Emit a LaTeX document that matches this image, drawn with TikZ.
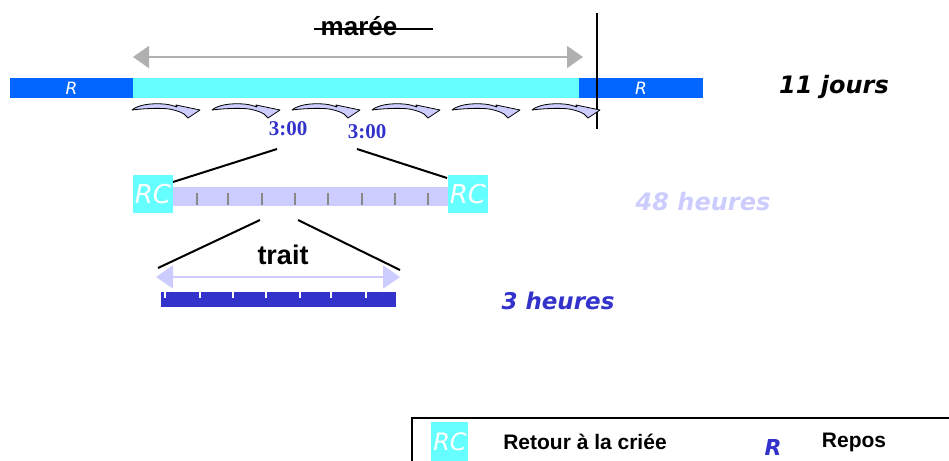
\documentclass[tikz,border=0pt]{standalone}
\usepackage{fontspec}
\setmainfont{Liberation Sans}
\newfontfamily\dvfont{DejaVu Sans}
\newfontfamily\serfont{Liberation Serif}
\usetikzlibrary{arrows.meta}
\definecolor{rblue}{HTML}{0066FF}
\definecolor{cyanb}{HTML}{66FFFF}
\definecolor{lav}{HTML}{CCCCFF}
\definecolor{dblue}{HTML}{3333CC}
\definecolor{arrgray}{HTML}{B0B0B0}
\definecolor{tickgray}{HTML}{888888}
\begin{document}
\begin{tikzpicture}[x=1pt,y=-1pt,
  bar/.style={rectangle,inner sep=0pt,outer sep=0pt,draw=none},
  rtext/.style={text=white,font=\dvfont\itshape\fontsize{17}{17}\selectfont},
  rctext/.style={text=white,font=\dvfont\itshape\fontsize{26}{26}\selectfont},
  bigital/.style={font=\dvfont\bfseries\itshape\fontsize{24}{24}\selectfont},
  boldlabel/.style={font=\bfseries\fontsize{#1}{#1}\selectfont},
  timelabel/.style={text=dblue,font=\serfont\bfseries\fontsize{21}{21}\selectfont},
  zoomline/.style={line width=2pt,black},
  grayarrow/.style={line width=2pt,arrgray,{Triangle[length=16pt,width=22pt]}-{Triangle[length=16pt,width=22pt]}},
  lavarrow/.style={line width=2pt,lav,{Triangle[length=17pt,width=23pt]}-{Triangle[length=17pt,width=23pt]}},
  curvarr/.pic={
    \filldraw[fill=lav,draw=black,line width=0.8pt,line join=round]
      (0,0) .. controls (6,-5) and (18,-7) .. (32,-6)
      .. controls (38,-5.5) and (42,-4) .. (45,-3)
      -- (44,-5) -- (68,0) -- (56,8) -- (52,4)
      .. controls (47,1) and (40,-1) .. (32,-1.5)
      .. controls (20,-2) and (8,-1) .. (0,0) -- cycle;
  }
]
\useasboundingbox (0,0) rectangle (949,460);
\clip (0,0) rectangle (949,460);

% title
\node[boldlabel=26,anchor=base] (maree) at (359,36) {marée};
\coordinate (strikeend) at (433,29);
\draw[line width=1.5pt] (maree.west |- strikeend) ++(-3,0) -- (strikeend);

% tide double arrow
\coordinate (mL) at (133,57);
\coordinate (mR) at (583,57);
\draw[grayarrow] (mL) -- (mR);

% top bar
\node[bar,fill=rblue,minimum width=123pt,minimum height=20pt,rtext] (rL) at (71.5,88) {R};
\node[bar,fill=cyanb,minimum width=446pt,minimum height=20pt] (tide) at (356,88) {};
\node[bar,fill=rblue,minimum width=124pt,minimum height=20pt,rtext] (rR) at (641,88) {R};
\node[bigital] (jours) at (834,87) {11 jours};

% vertical marker
\coordinate (v1) at (597,13);
\coordinate (v2) at (597,129);
\draw[line width=1.5pt] (v1) -- (v2);

% curved arrows (hauls)
\foreach \i in {0,...,5} {
  \pic at ({132+80*\i},110) {curvarr};
}

% times
\node[timelabel] (t1) at (288,129) {3:00};
\node[timelabel] (t2) at (367,132) {3:00};

% 48h bar
\node[bar,fill=cyanb,minimum width=40pt,minimum height=38pt,rctext] (rcL) at (153,194) {RC};
\node[bar,fill=lav,minimum width=275pt,minimum height=19pt] (bar48) at (310.5,196.5) {};
\node[bar,fill=cyanb,minimum width=40pt,minimum height=38pt,rctext] (rcR) at (468,194) {RC};
\foreach \x in {197,228,262,295,328,362,395,428} {
  \draw[tickgray,line width=1.6pt] (\x,193) -- (\x,205);
}
\node[font=\dvfont\bfseries\itshape\fontsize{24}{24}\selectfont,text=lav] (h48) at (703,202) {48 heures};

% zoom lines to 48h bar
\coordinate (z1) at (277,149);
\coordinate (z2) at (357,149);
\coordinate (za) at (173,182);
\coordinate (zb) at (447,178);
\draw[zoomline] (z1) -- (za);
\draw[zoomline] (z2) -- (zb);

% zoom lines to trait
\coordinate (z3) at (260,220);
\coordinate (z4) at (298,220);
\coordinate (tL) at (158,268);
\coordinate (tR) at (400,270);
\draw[zoomline] (z3) -- (tL);
\draw[zoomline] (z4) -- (tR);

\node[boldlabel=27] (trait) at (283,255) {trait};
\coordinate (aL) at (156,277);
\coordinate (aR) at (400,277);
\draw[lavarrow] (aL) -- (aR);

% 3h bar
\node[bar,fill=dblue,minimum width=235pt,minimum height=15pt] (bar3) at (278.5,299.5) {};
\foreach \x in {165,200,233,266,300,331,366} {
  \draw[white,line width=1.6pt] (\x,292) -- (\x,298);
}
\node[font=\dvfont\bfseries\itshape\fontsize{23}{23}\selectfont,text=dblue] (h3) at (558,301) {3 heures};

% legend
\draw[line width=1.5pt] (412,470) -- (412,418) -- (960,418);
\node[bar,fill=cyanb,minimum width=37pt,minimum height=40pt,anchor=north west] (legrc) at (431,422) {};
\node[text=white,font=\dvfont\itshape\fontsize{24}{24}\selectfont] (legrct) at (450,442) {RC};
\node[boldlabel=21] (legrctxt) at (585,442) {Retour à la criée};
\node[text=dblue,font=\dvfont\bfseries\itshape\fontsize{22}{22}\selectfont] (legr) at (773,447) {R};
\node[boldlabel=21] (legrtxt) at (854,442) {Repos};
\end{tikzpicture}
\end{document}
